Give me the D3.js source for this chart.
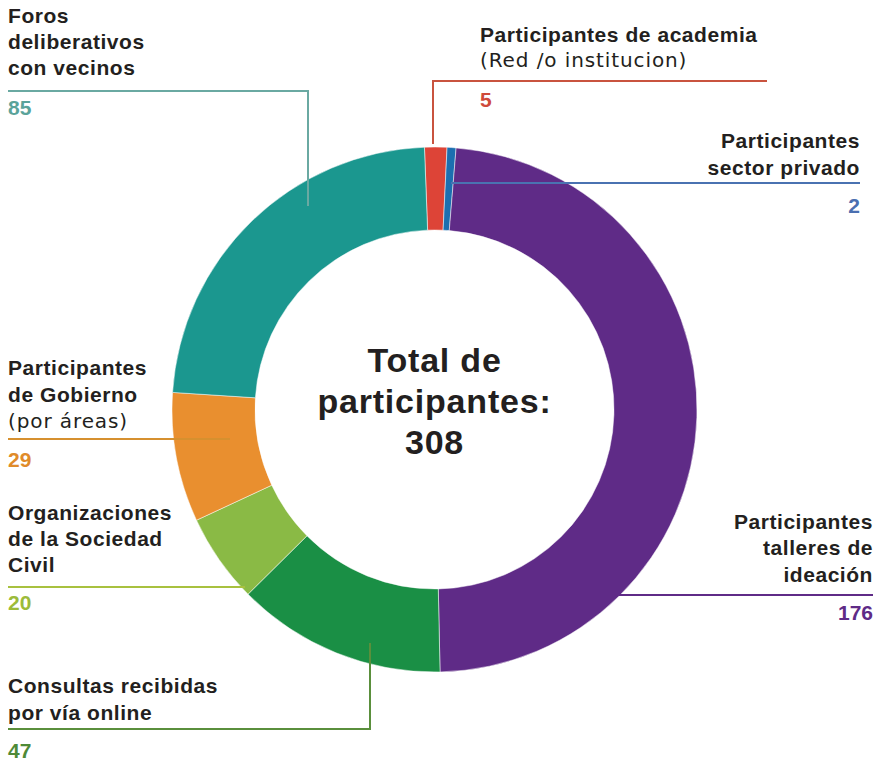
<!DOCTYPE html>
<html><head><meta charset="utf-8">
<script src="https://cdn.jsdelivr.net/npm/d3@7"></script>
<style>
html,body{margin:0;padding:0;background:#fff;}
svg{display:block;}
</style></head>
<body>
<script>
const categories = ["Participantes de academia","Participantes sector privado","Participantes talleres de ideación","Consultas recibidas por vía online","Organizaciones de la Sociedad Civil","Participantes de Gobierno","Foros deliberativos con vecinos"];
const values = [5, 2, 176, 47, 20, 29, 85];
const sliceColors = ["#dd4437","#1c6fb0","#5f2b87","#1a8f45","#8aba45","#e98f2f","#1b978f"];
const lineColors = ["#c9533f","#4a72b1","#5f2b87","#5a8f3c","#a8c13f","#d6902f","#6aa9a2"];
const valueColors = ["#cf4a3a","#4a6fb0","#5f2b87","#4e8a37","#9cbb3a","#e08b2a","#5aa39a"];
const labelLines = [
  ["Participantes de academia"],
  ["Participantes","sector privado"],
  ["Participantes","talleres de","ideación"],
  ["Consultas recibidas","por vía online"],
  ["Organizaciones","de la Sociedad","Civil"],
  ["Participantes","de Gobierno"],
  ["Foros","deliberativos","con vecinos"]
];
const subLines = ["(Red /o institucion)", null, null, null, null, "(por áreas)", null];
const totalLines = ["Total de","participantes:","308"];

const W = 880, H = 762;
const cx = 434.5, cy = 409.5, R = 262.5, r = 179.5;
const svg = d3.select("body").append("svg").attr("width", W).attr("height", H);

const pie = d3.pie().sort(null).value(d => d)
  .startAngle(-2.2 * Math.PI / 180).endAngle(2 * Math.PI - 2.2 * Math.PI / 180);
const arc = d3.arc().innerRadius(r).outerRadius(R);
const arcs = pie(values);

const g = svg.append("g").attr("transform", `translate(${cx},${cy})`);
g.selectAll("path").data(arcs).join("path")
  .attr("d", arc)
  .attr("fill", (d, i) => sliceColors[i])
  .attr("stroke", "#fff").attr("stroke-width", 0.5);

const layout = [
  {anchor:"start", x:480, lines:[42], sub:67, val:107, pts:[[433,144],[433,81],[767,81]]},
  {anchor:"end", x:860, lines:[148,175], sub:null, val:213, pts:[[451,183],[860,183]]},
  {anchor:"end", x:873, lines:[529,555,582], sub:null, val:620, pts:[[598,595],[873,595]]},
  {anchor:"start", x:8, lines:[693,720], sub:null, val:758, pts:[[370,643],[370,729],[8,729]]},
  {anchor:"start", x:8, lines:[520,546,572], sub:null, val:610, pts:[[245,587],[8,587]]},
  {anchor:"start", x:8, lines:[375,402], sub:428, val:467, pts:[[230,439],[8,439]]},
  {anchor:"start", x:8, lines:[23,49,75], sub:null, val:115, pts:[[308,206],[308,91],[8,91]]}
];

const line = d3.line();
const labels = svg.append("g");
const boldFont = "Liberation Sans, Arial, sans-serif";
layout.forEach((L, i) => {
  labels.append("path").attr("d", line(L.pts)).attr("fill", "none")
    .attr("stroke", lineColors[i]).attr("stroke-width", 2);
  labelLines[i].forEach((t, j) => {
    labels.append("text").attr("x", L.x).attr("y", L.lines[j])
      .attr("text-anchor", L.anchor)
      .attr("font-family", boldFont)
      .attr("font-weight", "bold").attr("font-size", 21)
      .attr("letter-spacing", 0.55).attr("fill", "#231f20")
      .text(t);
  });
  if (subLines[i]) {
    labels.append("text").attr("x", L.x).attr("y", L.sub)
      .attr("text-anchor", L.anchor)
      .attr("font-family", "DejaVu Sans, sans-serif").attr("font-size", 20)
      .attr("letter-spacing", 0.9)
      .attr("fill", "#231f20").text(subLines[i]);
  }
  labels.append("text").attr("x", L.x).attr("y", L.val)
    .attr("text-anchor", L.anchor)
    .attr("font-family", boldFont)
    .attr("font-weight", "bold").attr("font-size", 21)
    .attr("fill", valueColors[i]).text(values[i]);
});

const tb = [372, 413, 454];
totalLines.forEach((t, j) => {
  svg.append("text").attr("x", cx).attr("y", tb[j]).attr("text-anchor", "middle")
    .attr("font-family", boldFont)
    .attr("font-weight", "bold").attr("font-size", 34)
    .attr("letter-spacing", 0.8).attr("fill", "#231f20")
    .text(t);
});
</script>
</body></html>
